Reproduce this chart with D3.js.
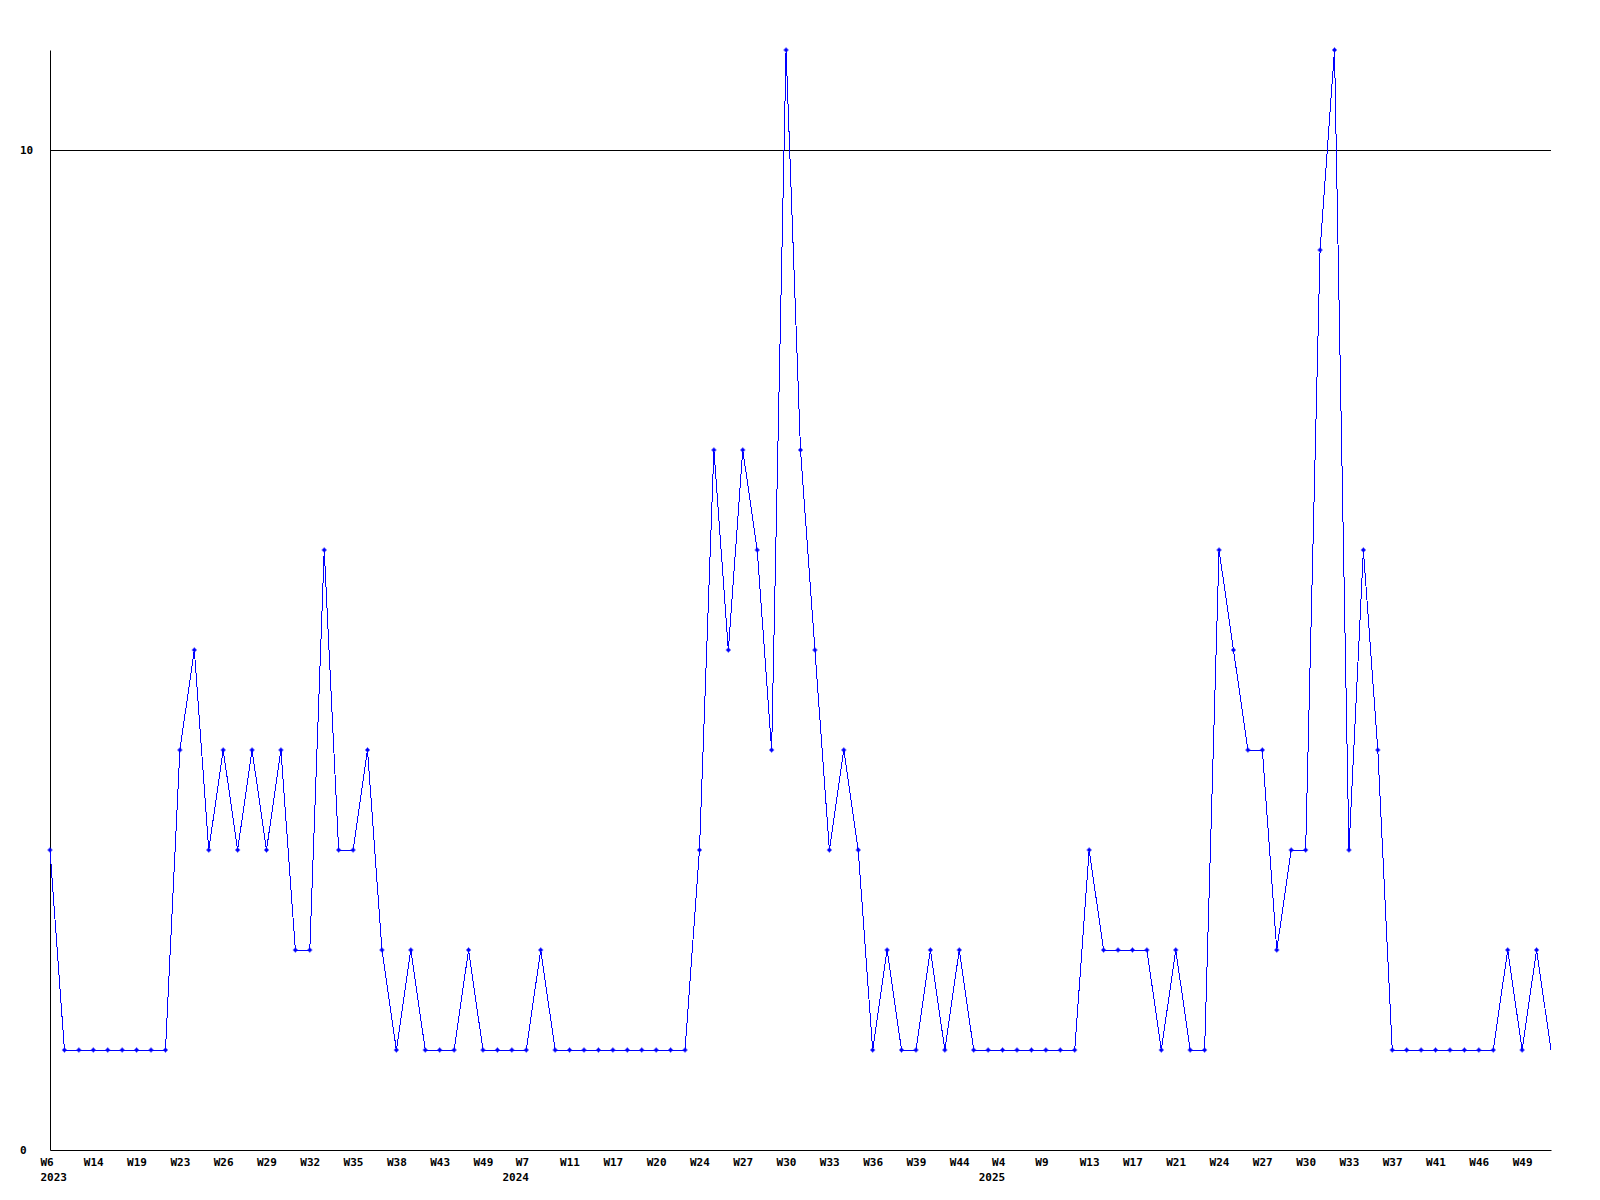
<!DOCTYPE html>
<head>
<meta charset="utf-8">
<style>
body { margin: 0; background: #fff; }
svg { display: block; }
.axis text {
  font-family: "DejaVu Sans Mono", monospace;
  font-weight: bold;
  font-size: 11px;
  fill: #000;
}
.axis path { stroke: #000; stroke-width: 1px; }
.grid { stroke: #000; stroke-width: 1px; shape-rendering: crispEdges; }
.series { fill: none; stroke: #0000ff; stroke-width: 1px; shape-rendering: crispEdges; }
.marker { fill: #0000ff; }
</style>
</head>
<body>
<svg width="1600" height="1200"></svg>
<script src="https://d3js.org/d3.v7.min.js"></script>
<script>
// one label every 3rd point
var weekTicks = ["W6","W14","W19","W23","W26","W29","W32","W35","W38","W43","W49",
  "W7","W11","W17","W20","W24","W27","W30","W33","W36","W39","W44",
  "W4","W9","W13","W17","W21","W24","W27","W30","W33","W37","W41","W46","W49"];
// second line under some ticks (index into weekTicks)
var yearTicks = {0: "2023", 11: "2024", 22: "2025"};
var yTicks = [0, 10];

var counts = [3,1,1,1,1,1,1,1,1,4,
  5,3,4,3,4,3,4,2,2,6,
  3,3,4,2,1,2,1,1,1,2,
  1,1,1,1,2,1,1,1,1,1,
  1,1,1,1,1,3,7,5,7,6,
  4,11,7,5,3,4,3,1,2,1,
  1,2,1,2,1,1,1,1,1,1,
  1,1,3,2,2,2,2,1,2,1,
  1,6,5,4,4,2,3,3,9,11,
  3,6,4,1,1,1,1,1,1,1,
  1,2,1,2,1];

var svg = d3.select("svg");
var charW = 6.6;

var x = d3.scaleLinear().domain([0, counts.length - 1]).range([50, 1551]);
var y = d3.scaleLinear().domain([0, 11]).range([1150, 50]);

// gridline at 10
svg.append("line")
  .attr("class", "grid")
  .attr("x1", x(0)).attr("x2", x(counts.length - 1))
  .attr("y1", y(10)).attr("y2", y(10));

// y axis
var gy = svg.append("g")
  .attr("class", "axis")
  .attr("transform", "translate(" + x(0) + ",0)")
  .call(d3.axisLeft(y).tickValues(yTicks).tickSize(0).tickSizeOuter(0).tickFormat(d3.format("d")));
gy.selectAll(".tick text")
  .attr("text-anchor", "start")
  .attr("x", 20 - x(0))
  .attr("dy", "0.35em");

// x axis
var tickIdx = d3.range(0, counts.length, 3);
var gx = svg.append("g")
  .attr("class", "axis")
  .attr("transform", "translate(0," + y(0) + ")")
  .call(d3.axisBottom(x).tickValues(tickIdx).tickSize(0).tickSizeOuter(0)
    .tickFormat(function(i){ return weekTicks[i / 3]; }));

gx.selectAll(".tick text")
  .attr("text-anchor", "start")
  .attr("y", 16)
  .attr("dy", 0)
  .attr("x", function(i){
    var lab = weekTicks[i / 3];
    var left = x(i) - (lab.length < 3 ? 11 : 10);
    return Math.max(40, left) - x(i);
  });

gx.selectAll(".tick").each(function(i){
  var yr = yearTicks[i / 3];
  if (!yr) return;
  var left = Math.max(40, x(i) + 2 - yr.length * charW);
  d3.select(this).append("text")
    .attr("text-anchor", "start")
    .attr("fill", "#000")
    .attr("x", left - x(i))
    .attr("y", 31)
    .text(yr);
});

// series
var line = d3.line()
  .x(function(d, i){ return x(i); })
  .y(function(d){ return y(d); });

svg.append("path")
  .datum(counts)
  .attr("class", "series")
  .attr("d", line);

var markerPath = "M-2.5,-0.5h5v1h-5z M-0.5,-2.5h1v5h-1z M-1.5,-1.5h3v3h-3z";
// the last point is drawn without a marker
svg.append("g")
  .selectAll("path")
  .data(counts.slice(0, -1))
  .enter().append("path")
  .attr("class", "marker")
  .attr("d", markerPath)
  .attr("transform", function(d, i){ return "translate(" + x(i) + "," + y(d) + ")"; });
</script>
</body>
</html>
